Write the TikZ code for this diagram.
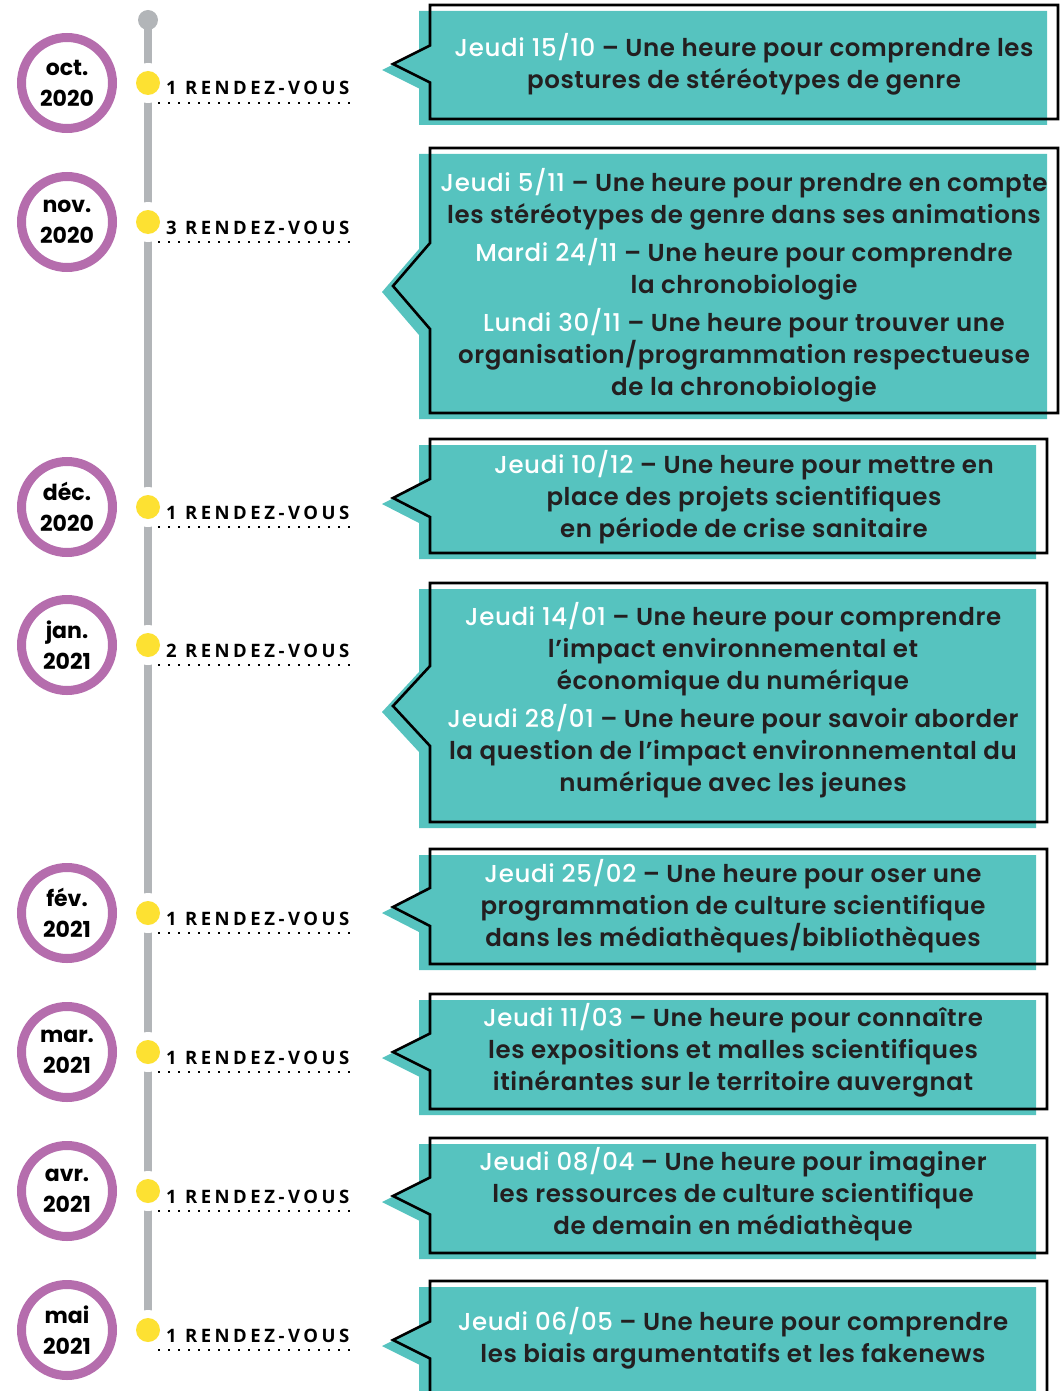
\documentclass[tikz,border=0pt]{standalone}
\usepackage{fontspec}
\setmainfont{Poppins}
\newfontfamily\boxmed{Poppins Medium}[LetterSpace=2.5]
\newfontfamily\boxsemi{Poppins SemiBold}[LetterSpace=2.5]
\newfontfamily\circfont{Poppins Bold}
\newfontfamily\rdvfont{Open Sans}[LetterSpace=19]
\usetikzlibrary{calc}
\definecolor{tealc}{HTML}{56C3BF}
\definecolor{purplec}{HTML}{B56DAD}
\definecolor{grayc}{HTML}{B2B5B8}
\definecolor{yellowc}{HTML}{FDE132}
\definecolor{darkc}{HTML}{231F20}
\newcommand{\wl}[1]{{\boxmed\color{white}#1}}
\newcommand{\bubble}[5]{%
  \fill[tealc, shift={(-11,6)}] (430,#1) -- (#3,#1) -- (#3,#2) -- (430,#2) -- (430,#4+#5) -- (393,#4) -- (430,#4-#5) -- cycle;
  \draw[outline] (430,#1) -- (#3,#1) -- (#3,#2) -- (430,#2) -- (430,#4+#5) -- (393,#4) -- (430,#4-#5) -- cycle;
}
\tikzset{
  outline/.style={draw=black, line width=2.6pt, line join=miter},
  boxtext/.style={font=\boxsemi\fontsize{24.5}{32}\selectfont, text=darkc, align=center, inner sep=0pt},
  month/.style={circle, draw=purplec, line width=9pt, minimum size=91pt, fill=white, inner sep=0pt, align=center, font=\circfont\fontsize{22}{31}\selectfont},
  capnode/.style={circle, fill=grayc, minimum size=20pt, inner sep=0pt},
  gapnode/.style={circle, fill=white, minimum size=40pt, inner sep=0pt},
  ydot/.style={circle, fill=yellowc, minimum size=24pt, inner sep=0pt},
  rdv/.style={font=\rdvfont\bfseries\fontsize{18.5}{20}\selectfont, text=black, inner sep=0pt, anchor=base west},
  dotline/.style={line width=2pt, dash pattern=on 2pt off 8pt, black},
}
\begin{document}
\begin{tikzpicture}[x=1pt, y=-1pt]
\useasboundingbox (0,0) rectangle (1060,1391);
% timeline
\node[capnode] (top) at (148,20) {};
\foreach \y [count=\i] in {83,222,507,645,913,1052,1191,1330}
  \coordinate (p\i) at (148,\y);
\draw[grayc, line width=8.7pt] (top.center) -- (p8);
\foreach \y/\m/\yr/\n [count=\i] in {83/oct./2020/1, 222/nov./2020/3, 507/déc./2020/1, 645/jan./2021/2, 913/fév./2021/1, 1052/mar./2021/1, 1191/avr./2021/1, 1330/mai/2021/1}{
  \node[gapnode] (g\i) at (p\i) {};
  \node[ydot] (d\i) at (p\i) {};
  \node[month] (m\i) at (67,\y) {\m\\\yr};
  \node[rdv] (r\i) at (166,\y+12) {\n{} RENDEZ-VOUS};
  \draw[dotline] ($(d\i)+(10,20)$) -- ($(d\i)+(206,20)$);
}
% bubbles
\bubble{5}{119}{1058}{64}{18.5}
\bubble{148}{413}{1058}{286}{43}
\bubble{439}{553}{1047}{498}{19}
\bubble{583}{822}{1047}{706}{40}
\bubble{849}{964}{1047}{907}{19}
\bubble{994}{1109}{1047}{1052}{18.5}
\bubble{1138}{1253}{1047}{1196}{18.5}
\bubble{1281}{1400}{1047}{1340}{18.5}
% texts
\node[boxtext] (t1) at (744,64.5) {\wl{Jeudi 15/10} – Une heure pour comprendre les\\postures de stéréotypes de genre};
\node[boxtext] (t2) at (744,285) {\wl{Jeudi 5/11} – Une heure pour prendre en compte\\les stéréotypes de genre dans ses animations\\[6pt]\wl{Mardi 24/11} – Une heure pour comprendre\\la chronobiologie\\[6pt]\wl{Lundi 30/11} – Une heure pour trouver une\\organisation/programmation respectueuse\\de la chronobiologie};
\node[boxtext] (t3) at (744,497.5) {\wl{Jeudi 10/12} – Une heure pour mettre en\\place des projets scientifiques\\en période de crise sanitaire};
\node[boxtext] (t4) at (733,700.5) {\wl{Jeudi 14/01} – Une heure pour comprendre\\l’impact environnemental et\\économique du numérique\\[6pt]\wl{Jeudi 28/01} – Une heure pour savoir aborder\\la question de l’impact environnemental du\\numérique avec les jeunes};
\node[boxtext] (t5) at (733,906.5) {\wl{Jeudi 25/02} – Une heure pour oser une\\programmation de culture scientifique\\dans les médiathèques/bibliothèques};
\node[boxtext] (t6) at (733,1050.5) {\wl{Jeudi 11/03} – Une heure pour connaître\\les expositions et malles scientifiques\\itinérantes sur le territoire auvergnat};
\node[boxtext] (t7) at (733,1194.5) {\wl{Jeudi 08/04} – Une heure pour imaginer\\les ressources de culture scientifique\\de demain en médiathèque};
\node[boxtext] (t8) at (733,1338.5) {\wl{Jeudi 06/05} – Une heure pour comprendre\\les biais argumentatifs et les fakenews};
\end{tikzpicture}
\end{document}
